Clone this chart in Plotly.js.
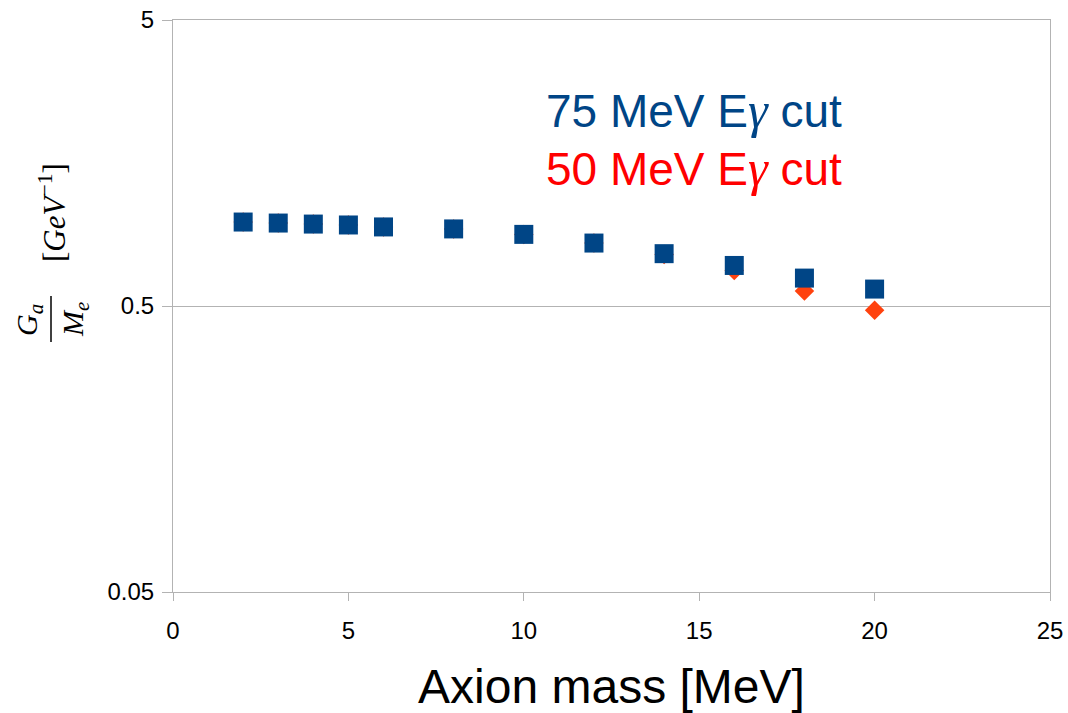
<!DOCTYPE html>
<html>
<head>
<meta charset="utf-8">
<script src="https://cdn.plot.ly/plotly-3.0.1.min.js"></script>
<style>
  html, body { margin: 0; padding: 0; background: #ffffff; }
  #chart { width: 1068px; height: 713px; }
</style>
</head>
<body>
<div id="chart"></div>
<script>
// Axion mass points (MeV)
const axionMass = [2, 3, 4, 5, 6, 8, 10, 12, 14, 16, 18, 20];

// Sensitivity Ga/Me (GeV^-1) with the 75 MeV photon-energy cut
const cut75 = [0.983, 0.975, 0.967, 0.960, 0.945, 0.930, 0.890, 0.830, 0.762, 0.693, 0.626, 0.573];

// Sensitivity Ga/Me (GeV^-1) with the 50 MeV photon-energy cut
const cut50 = [0.983, 0.975, 0.967, 0.960, 0.945, 0.930, 0.890, 0.830, 0.757, 0.666, 0.564, 0.483];

// Axis ticks
const xTicks = [0, 5, 10, 15, 20, 25];
const yTicks = [0.05, 0.5, 5];
const yTickText = ['0.05', '0.5', '5'];

const W = 1068, H = 713;
const M = { l: 173, r: 18, t: 20, b: 121 };
const plotW = W - M.l - M.r, plotH = H - M.t - M.b;
// pixel -> paper coordinates for annotations placed around the plot
const px = v => (v - M.l) / plotW;
const py = v => (H - M.b - v) / plotH;

const serif = 'Liberation Serif, DejaVu Serif, serif';
const sans = 'Liberation Sans, Arial, sans-serif';
const gamma = '<span style="font-family:\'Liberation Serif\';font-style:italic;font-size:50px">γ</span>';

const traces = [
  {
    x: axionMass, y: cut50, type: 'scatter', mode: 'markers', name: '50 MeV',
    marker: { symbol: 'diamond', size: 15, color: '#ff420e', line: { width: 0 } },
    hoverinfo: 'x+y'
  },
  {
    x: axionMass, y: cut75, type: 'scatter', mode: 'markers', name: '75 MeV',
    marker: { symbol: 'square', size: 19, color: '#004586', line: { width: 0 } },
    hoverinfo: 'x+y'
  }
];

const layout = {
  width: W, height: H,
  margin: M,
  paper_bgcolor: '#ffffff', plot_bgcolor: '#ffffff',
  showlegend: false,
  font: { family: sans, color: '#000000', size: 24 },
  xaxis: {
    range: [0, 25], tickvals: xTicks, ticktext: xTicks.map(String),
    showgrid: false, zeroline: false,
    showline: true, linecolor: '#b3b3b3', linewidth: 1, mirror: true,
    ticks: 'outside', ticklen: 8, tickcolor: '#b3b3b3', tickwidth: 1,
    ticklabelstandoff: 9,
    tickfont: { family: sans, size: 24, color: '#000000' },
    title: { text: 'Axion mass [MeV]', font: { family: sans, size: 48, color: '#000000' }, standoff: 27 }
  },
  yaxis: {
    type: 'log', range: [Math.log10(0.05), Math.log10(5)],
    tickvals: yTicks, ticktext: yTickText,
    showgrid: true, gridcolor: '#b3b3b3', gridwidth: 1, zeroline: false,
    showline: true, linecolor: '#b3b3b3', linewidth: 1, mirror: true,
    ticks: 'outside', ticklen: 10, tickcolor: '#b3b3b3', tickwidth: 1,
    ticklabelstandoff: 3,
    tickfont: { family: sans, size: 24, color: '#000000' }
  },
  shapes: [
    // fraction bar of the y-axis label
    { type: 'line', xref: 'paper', yref: 'paper', x0: px(51), x1: px(51), y0: py(296), y1: py(342),
      line: { color: '#000000', width: 1.5 } }
  ],
  annotations: [
    { xref: 'paper', yref: 'paper', x: px(844), y: py(110), xanchor: 'right', yanchor: 'middle',
      text: '75 MeV E' + gamma + ' cut', showarrow: false,
      font: { family: sans, size: 46, color: '#004586' } },
    { xref: 'paper', yref: 'paper', x: px(844), y: py(168), xanchor: 'right', yanchor: 'middle',
      text: '50 MeV E' + gamma + ' cut', showarrow: false,
      font: { family: sans, size: 46, color: '#ff0000' } },
    { xref: 'paper', yref: 'paper', x: px(29), y: py(320), xanchor: 'center', yanchor: 'middle',
      text: '<i>G<sub>a</sub></i>', textangle: -90, showarrow: false,
      font: { family: serif, size: 30, color: '#000000' } },
    { xref: 'paper', yref: 'paper', x: px(75), y: py(320), xanchor: 'center', yanchor: 'middle',
      text: '<i>M<sub>e</sub></i>', textangle: -90, showarrow: false,
      font: { family: serif, size: 30, color: '#000000' } },
    { xref: 'paper', yref: 'paper', x: px(52), y: py(213), xanchor: 'center', yanchor: 'middle',
      text: '[<i>GeV</i><sup>−1</sup>]', textangle: -90, showarrow: false,
      font: { family: serif, size: 31, color: '#000000' } }
  ]
};

Plotly.newPlot('chart', traces, layout, { staticPlot: true, displayModeBar: false });
</script>
</body>
</html>
